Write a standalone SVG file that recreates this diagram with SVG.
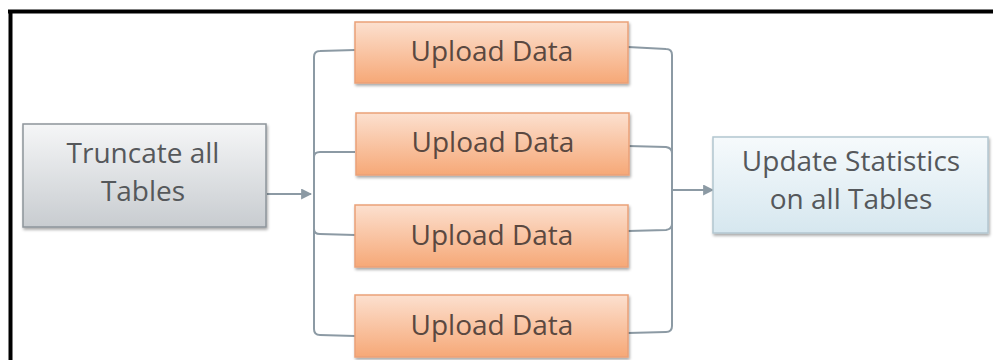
<svg xmlns="http://www.w3.org/2000/svg" width="993" height="360" viewBox="0 0 993 360">
<defs>
<linearGradient id="gOrange" x1="0" y1="0" x2="0" y2="1">
<stop offset="0" stop-color="#fce0cf"/>
<stop offset="1" stop-color="#f6a877"/>
</linearGradient>
<linearGradient id="gGray" x1="0" y1="0" x2="0" y2="1">
<stop offset="0" stop-color="#f5f6f7"/>
<stop offset="1" stop-color="#c8ccd0"/>
</linearGradient>
<linearGradient id="gBlue" x1="0" y1="0" x2="0" y2="1">
<stop offset="0" stop-color="#f6fafc"/>
<stop offset="1" stop-color="#d6e7ef"/>
</linearGradient>
<filter id="sh" x="-10%" y="-10%" width="120%" height="130%">
<feGaussianBlur in="SourceAlpha" stdDeviation="1.5"/>
<feOffset dx="1" dy="2" result="b"/>
<feComponentTransfer><feFuncA type="linear" slope="0.35"/></feComponentTransfer>
<feMerge><feMergeNode/><feMergeNode in="SourceGraphic"/></feMerge>
</filter>
<marker id="arr" viewBox="0 0 10 10" refX="9" refY="5" markerWidth="5.5" markerHeight="5.5" orient="auto">
<path d="M0,0 L10,5 L0,10 z" fill="#8c9aa4"/>
</marker>
</defs>
<style>
.t{font-family:"Open Sans","Liberation Sans",sans-serif;font-size:28px;text-anchor:middle}
.c{fill:none;stroke:#8c9aa4;stroke-width:2}
.up{fill:url(#gOrange);stroke:#eaa178;stroke-width:1.5}
</style>
<rect width="993" height="360" fill="#ffffff"/>
<g id="frame">
<line x1="8" y1="11.5" x2="993" y2="11.5" stroke="#000" stroke-width="4"/>
<line x1="10.5" y1="10" x2="10.5" y2="360" stroke="#000" stroke-width="4"/>
</g>
<g id="connectors">
<line class="c" x1="267" y1="194" x2="311" y2="194" marker-end="url(#arr)"/>
<path class="c" d="M355,50 L320,51 Q314,51 314,57 L314,329 Q314,335 320,335 L355,336"/>
<path class="c" d="M314,157 Q314,152 320,152 L355,152"/>
<path class="c" d="M314,229 Q314,234 320,234 L355,235"/>
<path class="c" d="M628,47 L666,49 Q672,49 672,55 L672,326 Q672,332 666,332 L628,333"/>
<path class="c" d="M628,146 L666,147 Q672,148 672,153"/>
<path class="c" d="M628,231 L666,230 Q672,229 672,224"/>
<line class="c" x1="672" y1="190" x2="713" y2="190" marker-end="url(#arr)"/>
</g>
<g id="truncate">
<rect x="23" y="124" width="243" height="103" fill="url(#gGray)" stroke="#8d959b" stroke-width="1.5" filter="url(#sh)"/>
<text class="t" x="143" y="163" fill="#55585b">Truncate all</text>
<text class="t" x="143" y="201" fill="#55585b">Tables</text>
</g>
<g id="upload1">
<rect class="up" x="355" y="22" width="273" height="61" filter="url(#sh)"/>
<text class="t" x="492" y="61" fill="#5a4840">Upload Data</text>
</g>
<g id="upload2">
<rect class="up" x="356" y="113" width="273" height="62" filter="url(#sh)"/>
<text class="t" x="493" y="152" fill="#5a4840">Upload Data</text>
</g>
<g id="upload3">
<rect class="up" x="355" y="205" width="273" height="62" filter="url(#sh)"/>
<text class="t" x="492" y="245" fill="#5a4840">Upload Data</text>
</g>
<g id="upload4">
<rect class="up" x="355" y="295" width="273" height="62" filter="url(#sh)"/>
<text class="t" x="492" y="335" fill="#5a4840">Upload Data</text>
</g>
<g id="update">
<rect x="713" y="137" width="275" height="96" fill="url(#gBlue)" stroke="#b3c6d0" stroke-width="1.5" filter="url(#sh)"/>
<text class="t" x="851" y="171" fill="#55585b">Update Statistics</text>
<text class="t" x="851" y="209" fill="#55585b">on all Tables</text>
</g>
</svg>
